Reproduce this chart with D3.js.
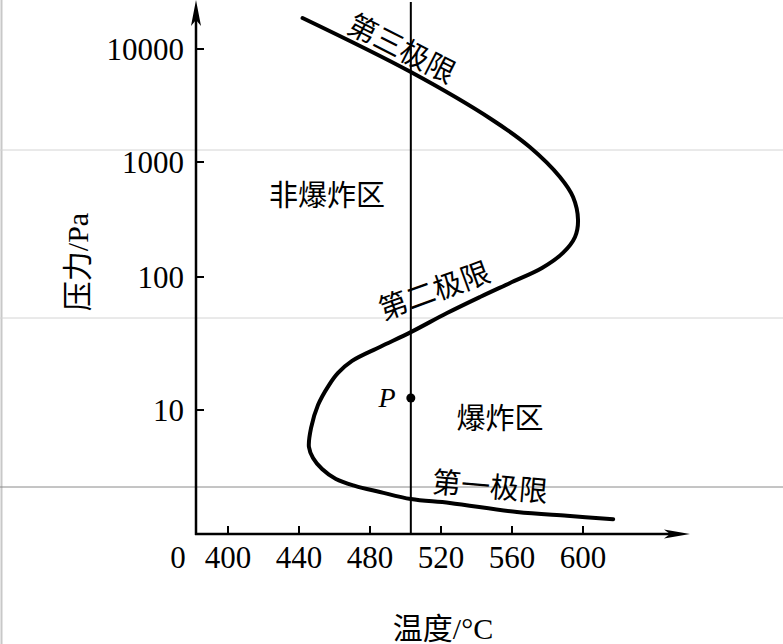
<!DOCTYPE html>
<meta charset="utf-8">
<style>
body { margin: 0; background: #fff; }
text { font-family: "Liberation Serif", "Noto Sans CJK SC", serif; fill: #000; }
.zh { font-family: "Noto Sans CJK SC", sans-serif; }
</style>
<svg width="783" height="644"></svg>
<script src="https://d3js.org/d3.v7.min.js"></script>
<script>
// explosion limit curve (temperature in C, pressure in Pa)
var temps = [442, 503, 549, 570, 587, 594.4, 597.2, 595.5, 588.7, 576.9, 558.9, 542, 523.4, 503,
             485.6, 469.9, 462, 456.9, 450.7, 446.8, 445.6, 447.9, 453, 460.8, 471.5, 485.6, 503, 525, 562.8, 591, 617];
var pressures = [18800, 6250, 2355, 1358, 741, 496, 313, 223, 162, 119.7, 90.2, 70.8, 53.6, 38.5,
                 29.8, 23.4, 19.0, 15.4, 10.9, 7.33, 5.27, 4.36, 3.6, 3.03, 2.69, 2.42, 2.14, 2.0, 1.71, 1.6, 1.51];
var xTicks = [400, 440, 480, 520, 560, 600];
var yTicks = [10, 100, 1000, 10000];
var yTickLabels = ["10", "100", "1000", "10000"];
var pointP = {t: 503, p: 12.3};
var regionLabels = ["非爆炸区", "爆炸区"];
var limitLabels = ["第三极限", "第二极限", "第一极限"];

var svg = d3.select("svg"),
    x0 = 196, y0 = 534;

// scanned-page artefacts
svg.append("line").attr("x1", 1.5).attr("x2", 1.5).attr("y1", 0).attr("y2", 644)
    .attr("stroke", "#c8c8c8").attr("stroke-width", 2);
[[150, "#d4d4d4"], [318, "#d4d4d4"], [487, "#8a8a8a"]].forEach(function(d) {
  svg.append("line").attr("x1", 0).attr("x2", 783).attr("y1", d[0]).attr("y2", d[0])
      .attr("stroke", d[1]).attr("stroke-width", 1);
});

var x = d3.scaleLinear().domain([400, 600]).range([228, 583]);
// the printed decades are not evenly spaced, so use a piecewise log scale
var y = d3.scaleLog().domain(yTicks).range([410, 277, 162, 49]);

// axes
var axis = svg.append("g").attr("stroke", "#000").attr("stroke-width", 2.5);
axis.append("line").attr("x1", x0).attr("x2", x0).attr("y1", y0 + 1).attr("y2", 14);
axis.append("line").attr("x1", x0 - 1).attr("x2", 670).attr("y1", y0).attr("y2", y0);
svg.append("path").attr("d", "M" + x0 + ",0 L" + (x0 + 5) + ",26 L" + x0 + ",20 L" + (x0 - 5) + ",26 Z");
svg.append("path").attr("d", "M690," + y0 + " L664," + (y0 - 4.5) + " L670," + y0 + " L664," + (y0 + 4.5) + " Z");

svg.selectAll(".xtick").data(xTicks).enter().append("line")
    .attr("x1", function(d) { return x(d); }).attr("x2", function(d) { return x(d); })
    .attr("y1", y0).attr("y2", y0 - 8).attr("stroke", "#000").attr("stroke-width", 2);
svg.selectAll(".xlab").data(xTicks).enter().append("text")
    .attr("x", function(d) { return x(d); }).attr("y", 568)
    .attr("text-anchor", "middle").style("font-size", "31px").text(function(d) { return d; });
svg.append("text").attr("x", 178).attr("y", 568).attr("text-anchor", "middle")
    .style("font-size", "31px").text("0");

svg.selectAll(".ytick").data(yTicks).enter().append("line")
    .attr("x1", x0).attr("x2", x0 + 8)
    .attr("y1", function(d) { return y(d); }).attr("y2", function(d) { return y(d); })
    .attr("stroke", "#000").attr("stroke-width", 2);
svg.selectAll(".ylab").data(yTicks).enter().append("text")
    .attr("x", 184).attr("y", function(d) { return y(d); }).attr("dy", "0.36em")
    .attr("text-anchor", "end").style("font-size", "31px")
    .text(function(d, i) { return yTickLabels[i]; });

svg.append("text").attr("transform", "translate(88,262) rotate(-90)")
    .attr("text-anchor", "middle").style("font-size", "30px").text("压力/Pa");
svg.append("text").attr("x", 443).attr("y", 639)
    .attr("text-anchor", "middle").style("font-size", "30px").text("温度/°C");

// vertical line through P
svg.append("line").attr("x1", x(pointP.t)).attr("x2", x(pointP.t)).attr("y1", 2).attr("y2", y0)
    .attr("stroke", "#000").attr("stroke-width", 2);

// limit curve
var pts = temps.map(function(t, i) { return [t, pressures[i]]; });
svg.append("path").datum(pts)
    .attr("fill", "none").attr("stroke", "#000").attr("stroke-width", 4).attr("stroke-linecap", "round")
    .attr("d", d3.line().x(function(d) { return x(d[0]); }).y(function(d) { return y(d[1]); })
        .curve(d3.curveCatmullRom.alpha(0.5)));

svg.append("circle").attr("cx", x(pointP.t)).attr("cy", y(pointP.p)).attr("r", 4.5);
svg.append("text").attr("x", 387).attr("y", 407).attr("text-anchor", "middle")
    .style("font-size", "28px").style("font-style", "italic").text("P");

svg.append("text").attr("class", "zh").attr("x", 327).attr("y", 206)
    .attr("text-anchor", "middle").style("font-size", "29px").text(regionLabels[0]);
svg.append("text").attr("class", "zh").attr("x", 500).attr("y", 429)
    .attr("text-anchor", "middle").style("font-size", "29px").text(regionLabels[1]);

[[402, 48, 27], [434, 290, -20], [490, 486, 5]].forEach(function(d, i) {
  svg.append("text").attr("class", "zh")
      .attr("transform", "translate(" + d[0] + "," + d[1] + ") rotate(" + d[2] + ")")
      .attr("text-anchor", "middle").attr("dy", "0.38em")
      .style("font-size", "29px").text(limitLabels[i]);
});
</script>
